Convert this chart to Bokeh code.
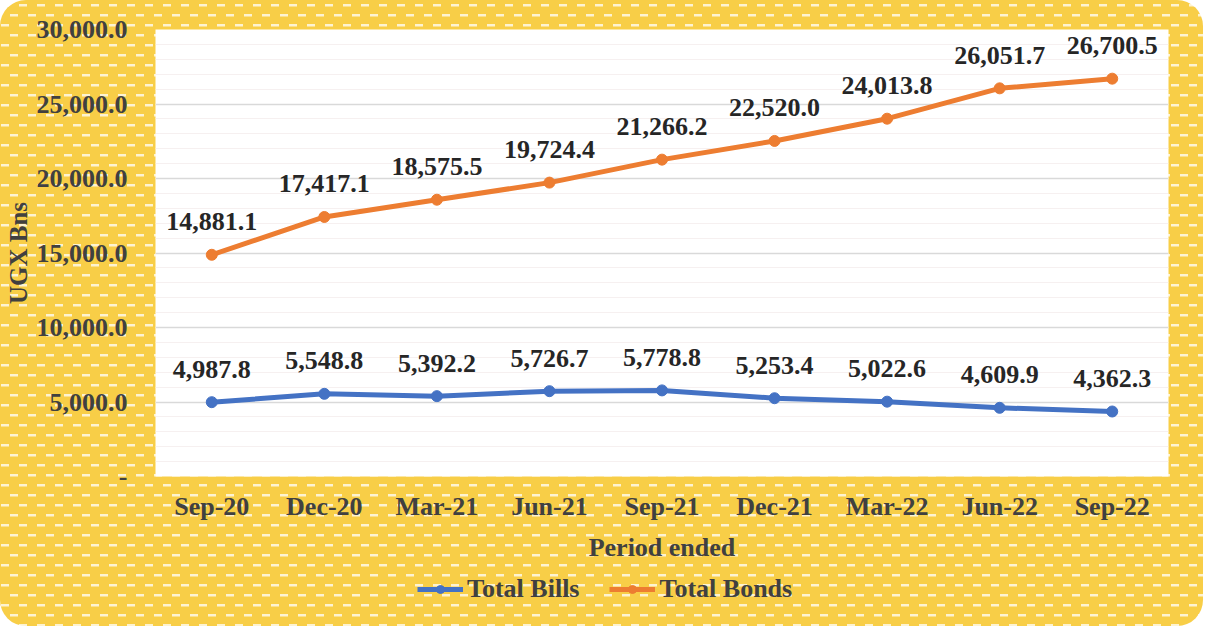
from bokeh.plotting import figure
from bokeh.layouts import column
from bokeh.models import (ColumnDataSource, Range1d, FactorRange, FixedTicker,
                          NumeralTickFormatter, Legend, LegendItem)
from bokeh.core.properties import value
from bokeh.embed import file_html
from bokeh.resources import INLINE

periods = ["Sep-20", "Dec-20", "Mar-21", "Jun-21", "Sep-21", "Dec-21", "Mar-22", "Jun-22", "Sep-22"]
total_bills = [4987.8, 5548.8, 5392.2, 5726.7, 5778.8, 5253.4, 5022.6, 4609.9, 4362.3]
total_bonds = [14881.1, 17417.1, 18575.5, 19724.4, 21266.2, 22520.0, 24013.8, 26051.7, 26700.5]
y_ticks = [0, 5000, 10000, 15000, 20000, 25000, 30000]

BLUE = "#4472C4"
ORANGE = "#ED7D31"
TXT = "#404040"
FONT = "Liberation Serif"
FS = "26px"

src = ColumnDataSource(dict(
    period=periods,
    bills=total_bills,
    bonds=total_bonds,
    bills_lbl=[f"{v:,.1f}" for v in total_bills],
    bonds_lbl=[f"{v:,.1f}" for v in total_bonds],
))

pattern = ("url(\"data:image/svg+xml;utf8,<svg xmlns='http://www.w3.org/2000/svg' width='18' height='20'>"
           "<rect x='1' y='4' width='8' height='2.5' fill='white' fill-opacity='0.75'/>"
           "<rect x='10' y='14' width='8' height='2.5' fill='white' fill-opacity='0.75'/></svg>\")")

p = figure(frame_width=1013, frame_height=447, output_backend="svg", toolbar_location=None,
           x_range=FactorRange(*periods), y_range=Range1d(0, 30000),
           min_border_left=155, min_border_right=35, min_border_top=29, min_border_bottom=88)

p.border_fill_color = None
p.background_fill_color = "white"
p.outline_line_color = None

# grids
p.xgrid.grid_line_color = None
p.ygrid.grid_line_color = "#D9D9D9"
p.ygrid.grid_line_width = 1.5
p.ygrid.minor_grid_line_color = "#F6F0F0"
p.ygrid.minor_grid_line_width = 1

# axes
p.yaxis.ticker = FixedTicker(ticks=y_ticks, minor_ticks=list(range(0, 30001, 1000)))
p.yaxis.formatter = NumeralTickFormatter(format="0,0.0")
p.yaxis.major_label_overrides = {0: "-"}
for ax in (p.xaxis[0], p.yaxis[0]):
    ax.axis_line_color = None
    ax.major_tick_line_color = None
    ax.minor_tick_line_color = None
    ax.major_label_text_font = FONT
    ax.major_label_text_font_style = "bold"
    ax.major_label_text_font_size = FS
    ax.major_label_text_color = TXT
    ax.axis_label_text_font = FONT
    ax.axis_label_text_font_style = "bold"
    ax.axis_label_text_color = TXT

p.yaxis.major_label_standoff = 22
p.yaxis.axis_label = "UGX Bns"
p.yaxis.axis_label_text_font_size = "25px"
p.yaxis.axis_label_standoff = 2

p.xaxis.major_label_standoff = 9
p.xaxis.axis_label = "Period ended"
p.xaxis.axis_label_text_font_size = FS
p.xaxis.axis_label_standoff = 9

# series
p.line("period", "bills", source=src, line_color=BLUE, line_width=5)
p.scatter("period", "bills", source=src, size=11, fill_color=BLUE, line_color=BLUE)
p.line("period", "bonds", source=src, line_color=ORANGE, line_width=5)
p.scatter("period", "bonds", source=src, size=11, fill_color=ORANGE, line_color=ORANGE)

for col, lbl in (("bills", "bills_lbl"), ("bonds", "bonds_lbl")):
    p.text("period", col, text=lbl, source=src, text_align="center", text_baseline="middle",
           y_offset=-33, text_font=value(FONT), text_font_style="bold",
           text_font_size=FS, text_color="#262626")

# legend strip (separate figure so the legend is not clipped)
lf = figure(width=1203, height=62, output_backend="svg", toolbar_location=None,
            x_range=FactorRange(*periods), y_range=Range1d(1e6, 1e6 + 1),
            x_axis_location=None, y_axis_location=None,
            min_border_left=0, min_border_right=0, min_border_top=0, min_border_bottom=0)
lf.border_fill_color = None
lf.background_fill_color = None
lf.outline_line_color = None
lf.grid.visible = False

b1 = lf.line("period", "bills", source=src, line_color=BLUE, line_width=5)
b2 = lf.scatter("period", "bills", source=src, size=9, fill_color=BLUE, line_color=BLUE)
o1 = lf.line("period", "bonds", source=src, line_color=ORANGE, line_width=5)
o2 = lf.scatter("period", "bonds", source=src, size=9, fill_color=ORANGE, line_color=ORANGE)

legend = Legend(items=[LegendItem(label="Total Bills", renderers=[b1, b2]),
                       LegendItem(label="Total Bonds", renderers=[o1, o2])],
                orientation="horizontal", location=(262, 22))
legend.background_fill_alpha = 0
legend.border_line_color = None
legend.label_text_font = FONT
legend.label_text_font_style = "bold"
legend.label_text_font_size = FS
legend.label_text_color = TXT
legend.glyph_width = 46
legend.label_standoff = 4
legend.spacing = 30
legend.margin = 0
legend.padding = 2
lf.add_layout(legend, "center")

layout = column(p, lf, spacing=0,
                styles={"background-color": "#F8CE47", "background-image": pattern,
                        "border-radius": "26px"})

open("out.html", "w").write(file_html(layout, INLINE))
